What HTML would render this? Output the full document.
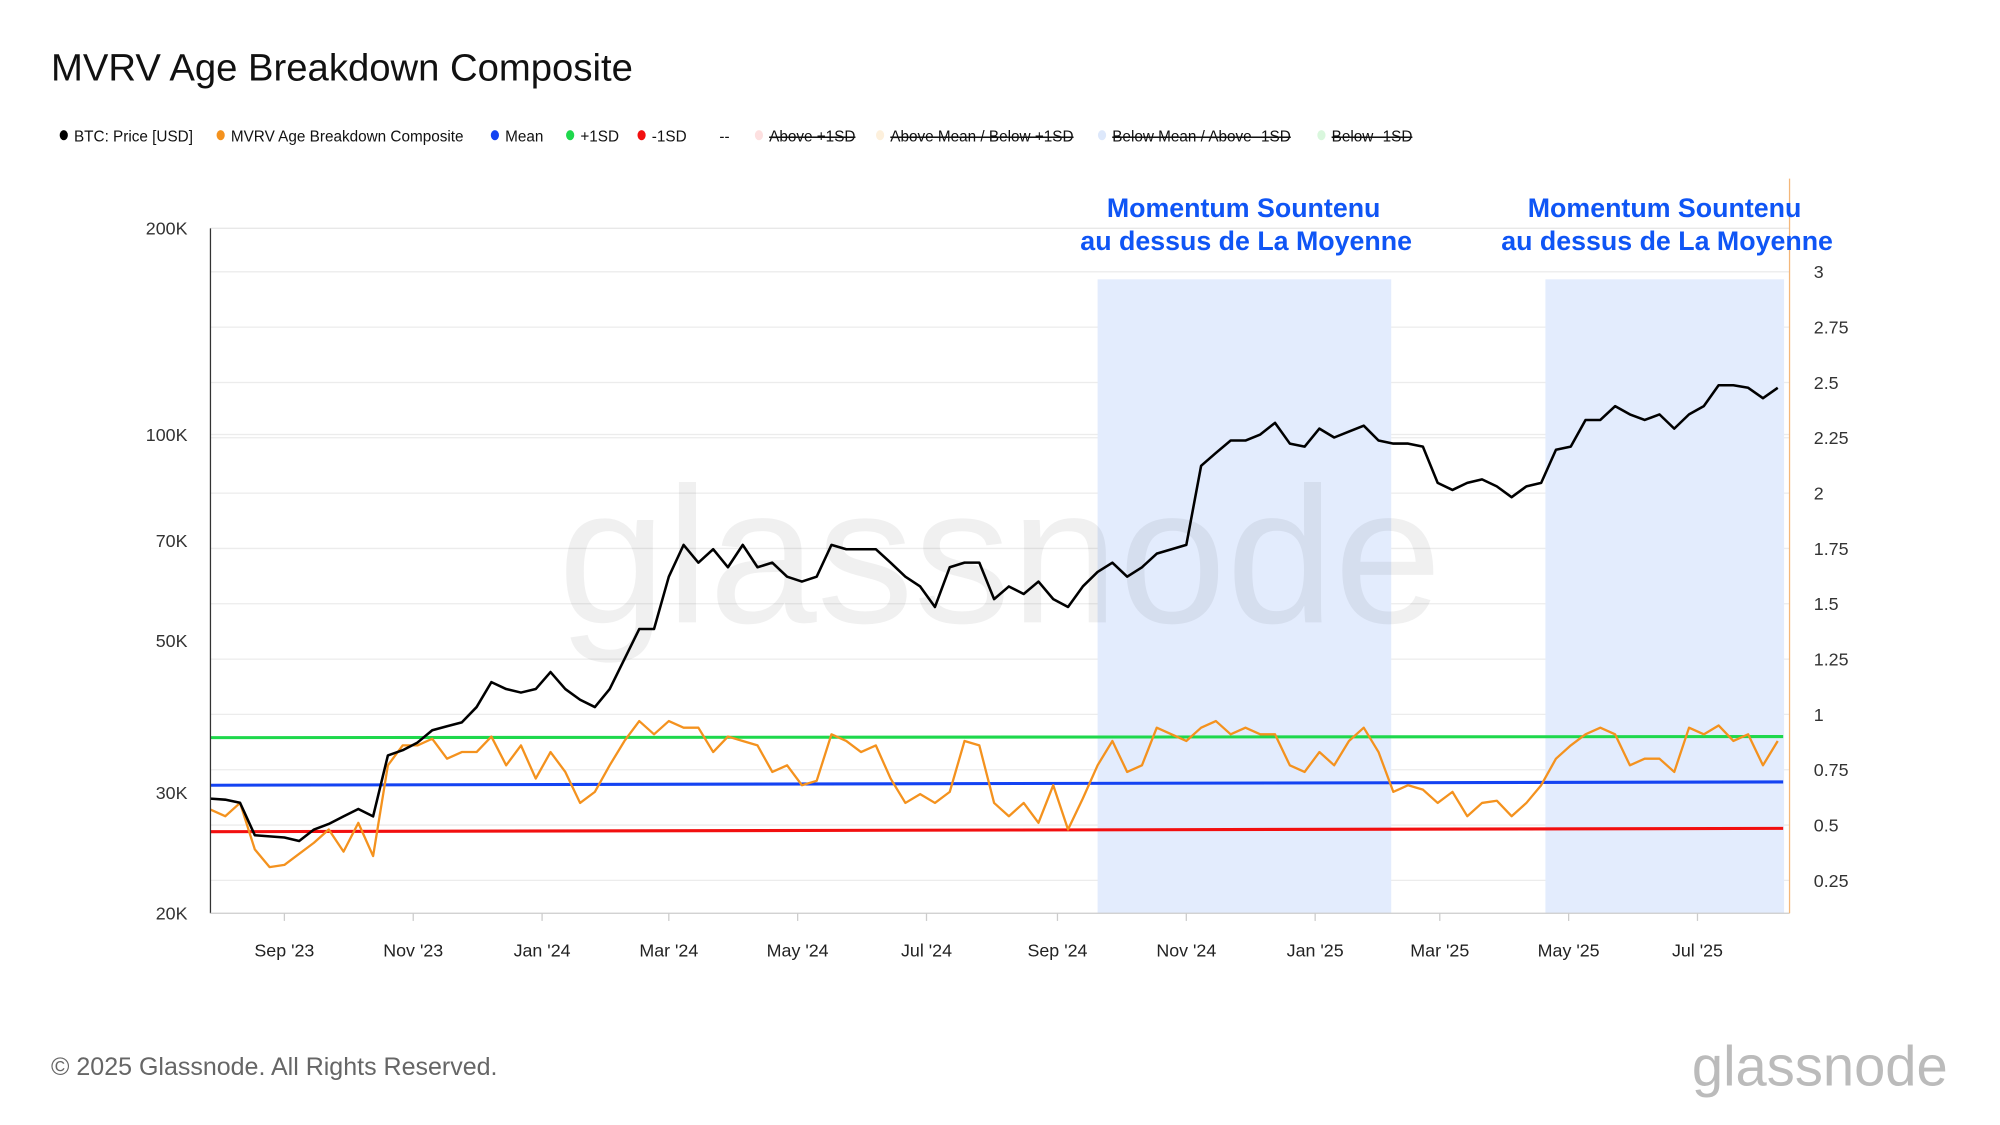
<!DOCTYPE html>
<html><head><meta charset="utf-8"><style>
html,body{margin:0;padding:0;background:#fff;}
svg{display:block;font-family:"Liberation Sans",Arial,sans-serif;}
</style></head><body>
<svg id="chart" width="2000" height="1125" viewBox="0 0 1568 882" xmlns="http://www.w3.org/2000/svg">
<rect width="1568" height="882" fill="#fff"/>
<text x="40" y="63" font-size="30" fill="#111">MVRV Age Breakdown Composite</text>
<g id="legend" font-size="12" fill="#111"></g>
<g id="grid"></g>
<g id="shade"></g>
<text x="784" y="488" font-size="152" fill="#000" fill-opacity="0.06" text-anchor="middle">glassnode</text>
<g id="series"></g>
<g id="axes" font-size="14" fill="#333"></g>
<g font-size="21" font-weight="bold" fill="#0f55f5" text-anchor="middle">
<text x="975" y="170">Momentum Sountenu</text><text x="977" y="196">au dessus de La Moyenne</text></g>
<g font-size="21" font-weight="bold" fill="#0f55f5" text-anchor="middle">
<text x="1305" y="170">Momentum Sountenu</text><text x="1307" y="196">au dessus de La Moyenne</text></g>
<text x="40" y="843" font-size="19.6" fill="#666">© 2025 Glassnode. All Rights Reserved.</text>
<text x="1527" y="851" font-size="44" fill="#bbb" text-anchor="end">glassnode</text>
</svg>
<script>
const priceK=[29.4,29.3,29.0,26.0,25.9,25.8,25.5,26.5,27.0,27.7,28.4,27.7,34.0,34.6,35.5,37.0,37.5,38,40,43.5,42.5,42,42.5,45,42.5,41,40,42.5,47,52,52,62,69,65,68,64,69,64,65,62,61,62,69,68,68,68,65,62,60,56,64,65,65,57.5,60,58.5,61,57.5,56,60,63,65,62,64,67,68,69,90,94,98,98,100,104,97,96,102,99,101,103,98,97,97,96,85,83,85,86,84,81,84,85,95,96,105,105,110,107,105,107,102,107,110,118,118,117,113,117];
const mvrv=[0.57,0.54,0.60,0.39,0.31,0.32,0.37,0.42,0.48,0.38,0.51,0.36,0.77,0.86,0.86,0.89,0.80,0.83,0.83,0.90,0.77,0.86,0.71,0.83,0.74,0.60,0.65,0.77,0.88,0.97,0.91,0.97,0.94,0.94,0.83,0.90,0.88,0.86,0.74,0.77,0.68,0.70,0.91,0.88,0.83,0.86,0.71,0.60,0.64,0.60,0.65,0.88,0.86,0.60,0.54,0.60,0.51,0.68,0.48,0.62,0.77,0.88,0.74,0.77,0.94,0.91,0.88,0.94,0.97,0.91,0.94,0.91,0.91,0.77,0.74,0.83,0.77,0.88,0.94,0.83,0.65,0.68,0.66,0.60,0.65,0.54,0.60,0.61,0.54,0.60,0.68,0.80,0.86,0.91,0.94,0.91,0.77,0.80,0.80,0.74,0.94,0.91,0.95,0.88,0.91,0.77,0.88];
const meanLine=[0.68,0.695];
const plusSD=[0.895,0.90];
const minusSD=[0.47,0.485];
const leftTicks=[20,30,50,70,100,200];
const leftTickLabels=["20K","30K","50K","70K","100K","200K"];
const rightTicks=[0.25,0.5,0.75,1,1.25,1.5,1.75,2,2.25,2.5,2.75,3];
const monthLabels=["Sep '23","Nov '23","Jan '24","Mar '24","May '24","Jul '24","Sep '24","Nov '24","Jan '25","Mar '25","May '25","Jul '25"];
const monthDays=[35,96,157,217,278,339,401,462,523,582,643,704];
const shadeDays=[[420,559],[632,745]];
const stepDays=7;

const NS="http://www.w3.org/2000/svg";
const X0=165,X1=1403,PX=1.656;
const xDay=d=>X0+d*PX;
const yL=v=>716-Math.log10(v/20)*537;
const yR=v=>733.6-v*173.5;
function mk(p,tag,a){const e=document.createElementNS(NS,tag);for(const k in a)e.setAttribute(k,a[k]);p.appendChild(e);return e;}
const grid=document.getElementById('grid'),axes=document.getElementById('axes'),series=document.getElementById('series'),shade=document.getElementById('shade'),legend=document.getElementById('legend');

mk(grid,'line',{x1:X0,x2:X1,y1:yL(200),y2:yL(200),stroke:'#e8e8e8'});
rightTicks.forEach(v=>{const l=mk(grid,'line',{x1:X0,x2:X1,y1:yR(v),y2:yR(v),stroke:'#ececec'});

});
mk(grid,'line',{x1:X0,x2:X1,y1:yL(100),y2:yL(100),stroke:'#ececec'});

shadeDays.forEach(s=>{const r=mk(shade,'rect',{x:xDay(s[0]),y:219,width:xDay(s[1])-xDay(s[0]),height:716-219,fill:'#e3ecfd'});

});

mk(axes,'line',{x1:X0,x2:X0,y1:179,y2:716,stroke:'#333'});
mk(axes,'line',{x1:X0,x2:X1,y1:716,y2:716,stroke:'#ccc'});
mk(axes,'line',{x1:X1,x2:X1,y1:140,y2:716,stroke:'#f4b77a'});
leftTicks.forEach((v,i)=>{const t=mk(axes,'text',{x:147,y:yL(v)+5,'text-anchor':'end'});t.textContent=leftTickLabels[i];

});
rightTicks.forEach(v=>{const t=mk(axes,'text',{x:1422,y:yR(v)+5});t.textContent=String(v);

});
monthDays.forEach((d,i)=>{mk(axes,'line',{x1:xDay(d),x2:xDay(d),y1:716,y2:722,stroke:'#ccc'});
const t=mk(axes,'text',{x:xDay(d),y:750,'text-anchor':'middle',fill:'#222'});t.textContent=monthLabels[i];

});

function hline(vals,col,name){const l=mk(series,'line',{x1:X0,x2:X1-5,y1:yR(vals[0]),y2:yR(vals[1]),stroke:col,'stroke-width':2.4});

}
hline(plusSD,'#1ed84c','plus-1sd-line');
hline(meanLine,'#1443f2','mean-line');
hline(minusSD,'#f20f0f','minus-1sd-line');
const mp=mk(series,'polyline',{points:mvrv.map((v,i)=>xDay(i*stepDays)+','+yR(v)).join(' '),fill:'none',stroke:'#f4921e','stroke-width':1.8,'stroke-linejoin':'round'});


const pp=mk(series,'polyline',{points:priceK.map((v,i)=>xDay(i*stepDays)+','+yL(v)).join(' '),fill:'none',stroke:'#000','stroke-width':2,'stroke-linejoin':'round'});



const items=[[50,'#000','BTC: Price [USD]',0],[173,'#f4921e','MVRV Age Breakdown Composite',0],[388,'#1443f2','Mean',0],[447,'#1ed84c','+1SD',0],[503,'#f20f0f','-1SD',0],[595,'#fde0e0','Above +1SD',1],[690,'#fdf0dc','Above Mean / Below +1SD',1],[864,'#dde8fb','Below Mean / Above -1SD',1],[1036,'#d9f7dd','Below -1SD',1]];
items.forEach(it=>{const g=mk(legend,'g',{});


mk(g,'ellipse',{cx:it[0],cy:106,rx:3.2,ry:4,fill:it[1]});
const t=mk(g,'text',{x:it[0]+8,y:111,'text-decoration':it[3]?'line-through':'none'});t.textContent=it[2];});
const dd=mk(legend,'text',{x:564,y:111});dd.textContent='--';
</script>
</body></html>
